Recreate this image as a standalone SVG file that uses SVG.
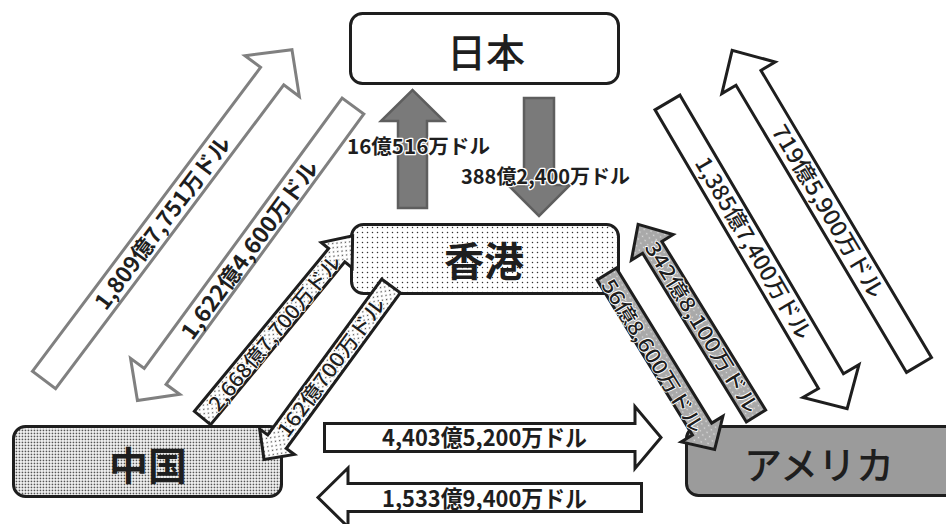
<svg xmlns="http://www.w3.org/2000/svg" width="946" height="524" viewBox="0 0 946 524">
<style>
.box{stroke:#1e1e1e;stroke-width:3}
.ntext{font-family:"Noto Sans CJK JP","Noto Sans",sans-serif;fill:#1e1e1e;text-anchor:middle;dominant-baseline:central}
.ga{fill:#fff;stroke:#808080;stroke-width:3;stroke-linejoin:miter}
.ba{fill:#fff;stroke:#1e1e1e;stroke-width:3;stroke-linejoin:miter}
.va{fill:#7a7a7a;stroke:#5e5e5e;stroke-width:2.5}
.lbl{font-family:"Noto Sans CJK JP","Noto Sans",sans-serif;fill:#1e1e1e;text-anchor:middle}
.b{font-weight:700}
.m{font-weight:500}
.halo{stroke:#fff;stroke-width:2.5;paint-order:stroke;stroke-linejoin:round}
.halo2{stroke:#fff;stroke-width:1.6;paint-order:stroke;stroke-linejoin:round}
</style>
<defs>
<pattern id="dotsLight" width="5" height="5" patternUnits="userSpaceOnUse"><rect width="5" height="5" fill="#fff"/><circle cx="2.5" cy="2.5" r="0.75" fill="#333"/></pattern>
<pattern id="dotsDense" width="3" height="3" patternUnits="userSpaceOnUse"><rect width="3" height="3" fill="#fff"/><rect x="0.6" y="0.6" width="1.7" height="1.7" fill="#555"/></pattern>
<pattern id="dotsSparse" width="6" height="6" patternUnits="userSpaceOnUse"><rect width="6" height="6" fill="#fff"/><circle cx="1.5" cy="1.5" r="0.8" fill="#444"/><circle cx="4.5" cy="4.5" r="0.8" fill="#444"/></pattern>
<pattern id="dotsGray" width="5" height="5" patternUnits="userSpaceOnUse"><rect width="5" height="5" fill="#a9a9a9"/><circle cx="2.5" cy="2.5" r="0.8" fill="#e0e0e0"/></pattern>
</defs>

<g id="node-japan">
<rect class="box" x="350.5" y="13.5" width="268" height="70" rx="12" fill="#fff"/>
<text class="ntext" x="486" y="50" font-size="39" font-weight="500">日本</text>
</g>
<g id="node-hongkong">
<rect class="box" x="351.5" y="224.5" width="267" height="69" rx="12" fill="url(#dotsLight)"/>
<text class="ntext" x="484" y="259" font-size="40" font-weight="700">香港</text>
</g>
<g id="node-china">
<rect class="box" x="13.5" y="426.5" width="268" height="70" rx="12" fill="url(#dotsDense)"/>
<text class="ntext" x="148" y="463" font-size="39" font-weight="700">中国</text>
</g>
<g id="node-america">
<rect class="box" x="686.5" y="426.5" width="280" height="69" rx="12" fill="#9b9b9b"/>
<text class="ntext" x="819" y="462" font-size="38" font-weight="500">アメリカ</text>
</g>

<g id="connectors">
<!-- Japan <-> Hong Kong -->
<path class="va" d="M398,208V121H381L412.5,90L444,121H427V208Z"/>
<path class="va" d="M524,98H554V185H570L539,216L508,185H524Z"/>
<text class="lbl b halo" x="347" y="154" font-size="20" style="text-anchor:start" textLength="143" lengthAdjust="spacingAndGlyphs">16億516万ドル</text>
<text class="lbl b halo" x="461" y="184" font-size="20" style="text-anchor:start" textLength="169" lengthAdjust="spacingAndGlyphs">388億2,400万ドル</text>

<!-- China <-> Japan (gray) -->
<path class="ga" transform="translate(44,380) rotate(-53.1)" d="M0,-14.5H380V-34L413,0L380,34V14.5H0Z"/>
<text class="lbl b" transform="translate(163,223) rotate(-53.1)" y="7.5" font-size="22" textLength="210" lengthAdjust="spacingAndGlyphs">1,809億7,751万ドル</text>
<path class="ga" transform="translate(353,106) rotate(126.2)" d="M0,-13.5H335V-30.5L365,0L335,30.5V13.5H0Z"/>
<text class="lbl b" transform="translate(250,250) rotate(-53.8)" y="7.5" font-size="22" textLength="215" lengthAdjust="spacingAndGlyphs">1,622億4,600万ドル</text>

<!-- China <-> Hong Kong (dotted) -->
<path class="ba" style="fill:url(#dotsSparse)" transform="translate(202.5,418) rotate(-50.5)" d="M0,-10.5H211V-20L236,0L211,20V10.5H0Z"/>
<text class="lbl m halo2" transform="translate(275,333) rotate(-50.5)" y="7" font-size="20" textLength="195" lengthAdjust="spacingAndGlyphs">2,668億7,700万ドル</text>
<path class="ba" style="fill:url(#dotsSparse)" transform="translate(391,286) rotate(126.2)" d="M0,-11.5H193V-21.5L215,0L193,21.5V11.5H0Z"/>
<text class="lbl m halo2" transform="translate(331.5,367.5) rotate(-53.8)" y="7" font-size="20" textLength="167" lengthAdjust="spacingAndGlyphs">162億700万ドル</text>

<!-- Hong Kong <-> America (gray dotted) -->
<path class="ba" style="fill:url(#dotsGray)" transform="translate(756,416) rotate(-121.6)" d="M0,-11.3H198V-24.5L225,0L198,24.5V11.3H0Z"/>
<text class="lbl m halo2" transform="translate(701.5,327.5) rotate(58.4)" y="7" font-size="20" textLength="197" lengthAdjust="spacingAndGlyphs">342億8,100万ドル</text>
<path class="ba" style="fill:url(#dotsGray)" transform="translate(606.7,274) rotate(58.4)" d="M0,-11.3H182V-24.5L206,0L182,24.5V11.3H0Z"/>
<text class="lbl m halo2" transform="translate(652.5,356) rotate(58.4)" y="7" font-size="20" textLength="176" lengthAdjust="spacingAndGlyphs">56億8,600万ドル</text>

<!-- Japan <-> America -->
<path class="ba" transform="translate(919,365) rotate(-120.7)" d="M0,-14.5H334V-31L366,0L334,31V14.5H0Z"/>
<text class="lbl m" transform="translate(827.6,211.5) rotate(59.3)" y="7.5" font-size="22" textLength="197" lengthAdjust="spacingAndGlyphs">719億5,900万ドル</text>
<path class="ba" transform="translate(667.5,102.5) rotate(59.6)" d="M0,-14.5H323V-32.5L355,0L323,32.5V14.5H0Z"/>
<text class="lbl m" transform="translate(753,248.3) rotate(59.6)" y="7.5" font-size="22" textLength="207" lengthAdjust="spacingAndGlyphs">1,385億7,400万ドル</text>

<!-- China <-> America -->
<path class="ba" d="M324.5,423.5H635V406.5L661,437.5L635,468.5V451.5H324.5Z"/>
<text class="lbl b" x="484.5" y="446" font-size="23" textLength="205" lengthAdjust="spacingAndGlyphs">4,403億5,200万ドル</text>
<path class="ba" d="M641.5,483.5V511.5H348V527L318,497.5L348,468V483.5Z"/>
<text class="lbl b" x="484.5" y="507" font-size="23" textLength="205" lengthAdjust="spacingAndGlyphs">1,533億9,400万ドル</text>
</g>
</svg>
